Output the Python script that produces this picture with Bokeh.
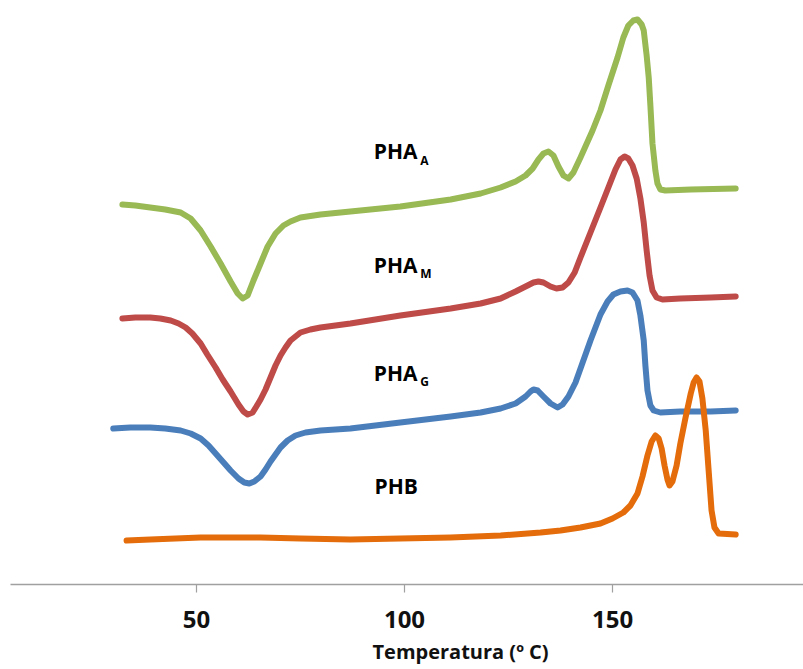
from bokeh.plotting import figure
from bokeh.models import Range1d, FixedTicker, ColumnDataSource, Title
from bokeh.core.properties import value
from bokeh.embed import file_html
from bokeh.resources import INLINE

# ---------------- data (DSC thermograms, heat flow in arbitrary units) ----------------
pha_a_T = [32.2, 35.3, 38.9, 42.5, 46.2, 48.6, 51.0, 53.4, 55.8, 58.2, 59.9, 61.1, 62.3, 63.7,
           65.4, 67.1, 69.0, 70.9, 72.6, 75.0, 79.8, 87.0, 99.0, 111.1, 118.3, 123.1, 126.7,
           129.1, 130.8, 132.2, 133.4, 134.6, 135.8, 137.0, 138.2, 139.4, 140.6, 142.3, 145.2,
           147.1, 149.0, 151.2, 152.6, 153.8, 155.0, 156.0, 157.0, 157.5, 158.2, 158.7, 159.1,
           159.6, 160.3, 160.8, 161.5, 162.7, 168.8, 179.6]
pha_a_hf = [38.0, 37.9, 37.7, 37.5, 37.2, 36.6, 35.4, 33.8, 32.1, 30.3, 29.1, 28.6, 28.9, 30.4,
            32.1, 33.8, 35.1, 35.9, 36.3, 36.7, 37.0, 37.3, 37.8, 38.5, 39.1, 39.7, 40.3,
            40.9, 41.6, 42.5, 43.1, 43.3, 42.9, 41.8, 40.9, 40.6, 41.2, 42.7, 45.4,
            47.4, 49.9, 52.7, 54.7, 55.9, 56.4, 56.5, 56.0, 55.4, 52.9, 50.7, 47.9,
            44.1, 41.4, 40.1, 39.5, 39.4, 39.5, 39.6]

pha_m_T = [32.2, 35.3, 38.9, 41.3, 43.8, 45.7, 47.4, 49.0, 51.0, 52.6, 54.6, 56.3, 58.2, 60.1,
           61.3, 62.3, 63.5, 64.4, 65.4, 66.6, 67.8, 69.0, 70.2, 71.4, 72.6, 75.0, 77.4, 79.8,
           87.0, 99.0, 111.1, 118.3, 123.1, 126.7, 129.1, 131.0, 132.2, 133.4, 135.1, 136.5,
           138.0, 139.4, 140.9, 142.3, 144.7, 147.1, 149.0, 150.7, 151.9, 152.9, 153.8, 154.8,
           155.8, 156.7, 157.5, 158.2, 158.9, 159.6, 160.6, 162.0, 166.3, 173.6, 179.6]
pha_m_hf = [26.6, 26.7, 26.7, 26.6, 26.4, 26.1, 25.7, 25.1, 24.1, 23.0, 21.7, 20.5, 19.3, 18.0,
            17.3, 17.0, 17.2, 17.8, 18.5, 19.5, 20.7, 21.9, 22.9, 23.7, 24.4, 25.2, 25.5, 25.7,
            26.1, 26.9, 27.6, 28.1, 28.6, 29.3, 29.8, 30.2, 30.3, 30.2, 29.8, 29.6,
            29.7, 30.2, 31.2, 32.7, 35.2, 37.7, 39.7, 41.5, 42.5, 42.8, 42.6, 41.9,
            40.6, 38.6, 36.2, 33.4, 30.9, 29.4, 28.7, 28.5, 28.6, 28.7, 28.8]

pha_g_T = [30.0, 34.1, 38.9, 42.5, 46.2, 48.6, 51.0, 52.9, 54.6, 56.3, 58.2, 60.1, 61.5, 62.7,
           63.9, 65.4, 66.6, 67.8, 69.0, 70.2, 71.9, 73.8, 76.2, 79.8, 87.0, 99.0, 111.1, 118.3,
           123.1, 126.7, 129.1, 130.3, 131.0, 132.0, 133.4, 135.1, 136.8, 138.0, 139.4, 141.1,
           142.3, 144.7, 147.1, 148.8, 150.2, 151.9, 153.6, 154.8, 156.0, 156.7, 157.5, 157.9,
           158.4, 159.1, 159.9, 161.5, 166.3, 173.6, 179.6]
pha_g_hf = [15.6, 15.7, 15.7, 15.6, 15.4, 15.1, 14.6, 13.9, 13.1, 12.3, 11.4, 10.6, 10.2, 10.1,
            10.3, 10.8, 11.5, 12.3, 13.0, 13.7, 14.4, 14.9, 15.2, 15.4, 15.6, 16.2, 16.8, 17.2,
            17.6, 18.1, 18.8, 19.3, 19.5, 19.4, 18.8, 18.1, 17.7, 18.0, 18.8, 20.2,
            21.6, 24.4, 27.0, 28.3, 29.0, 29.3, 29.4, 29.2, 28.4, 26.9, 24.4, 21.9,
            19.4, 17.9, 17.4, 17.2, 17.3, 17.3, 17.4]

phb_T = [33.2, 38.9, 51.0, 65.4, 75.0, 87.0, 99.0, 111.1, 123.1, 132.7, 137.5, 142.3, 147.1,
         150.0, 152.6, 154.3, 156.0, 157.2, 158.4, 159.4, 160.3, 161.1, 161.8, 162.5, 163.2,
         163.7, 164.4, 165.4, 166.3, 167.5, 168.8, 169.5, 170.2, 170.9, 171.6, 172.4, 173.1,
         173.8, 174.5, 175.5, 179.6]
phb_hf = [4.4, 4.5, 4.7, 4.7, 4.6, 4.5, 4.6, 4.7, 4.9, 5.2, 5.4, 5.7, 6.1,
          6.6, 7.2, 7.9, 9.1, 10.8, 12.9, 14.3, 14.9, 14.6, 13.6, 11.9, 10.5,
          9.9, 10.3, 11.9, 14.1, 16.6, 19.1, 20.2, 20.7, 20.3, 18.6, 15.4, 11.4,
          7.4, 5.7, 5.1, 5.0]

series_names = ["PHA", "PHA", "PHA", "PHB"]
series_subscripts = ["A", "M", "G", ""]
x_ticks = [50, 100, 150]
x_title = "Temperatura (º C)"

# ---------------- styling / annotation placement ----------------
colors = ["#98B954", "#BE4B48", "#4A7EBB", "#E46C0A"]
label_T = [92.6, 92.6, 92.6, 92.8]        # left edge of main label text
label_hf = [43.4, 32.0, 21.2, 9.9]        # baseline of main label text
sub_T = [103.8, 103.8, 103.8, 0]
sub_hf = [42.4, 31.1, 20.3, 0]

FONT = "Open Sans"

p = figure(width=803, height=669, output_backend="svg", toolbar_location=None,
           x_range=Range1d(5.3, 195.9), y_range=Range1d(0, 58.4),
           y_axis_location=None, min_border_left=10, min_border_right=0,
           min_border_top=0, min_border_bottom=85)
p.outline_line_color = None
p.xgrid.visible = False
p.ygrid.visible = False
p.background_fill_color = "white"
p.border_fill_color = "white"

series = [(pha_a_T, pha_a_hf), (pha_m_T, pha_m_hf), (pha_g_T, pha_g_hf), (phb_T, phb_hf)]
for (xs, ys), c in zip(series, colors):
    p.line(xs, ys, line_color=c, line_width=6, line_cap="round", line_join="round")

main_src = ColumnDataSource(dict(x=label_T, y=label_hf, t=series_names))
p.text(x="x", y="y", text="t", source=main_src, text_font=value(FONT),
       text_font_size="21px", text_font_style="bold", text_color="#000000",
       text_align="left", text_baseline="alphabetic")

sub_idx = [i for i, s in enumerate(series_subscripts) if s]
sub_src = ColumnDataSource(dict(x=[sub_T[i] for i in sub_idx], y=[sub_hf[i] for i in sub_idx],
                                t=[series_subscripts[i] for i in sub_idx]))
p.text(x="x", y="y", text="t", source=sub_src, text_font=value(FONT),
       text_font_size="12px", text_font_style="bold", text_color="#000000",
       text_align="left", text_baseline="alphabetic")

ax = p.xaxis[0]
ax.ticker = FixedTicker(ticks=x_ticks)
ax.minor_tick_line_color = None
ax.axis_line_color = "#A0A0A0"
ax.axis_line_width = 1.5
ax.major_tick_line_color = "#A0A0A0"
ax.major_tick_line_width = 1.2
ax.major_tick_out = 8
ax.major_tick_in = 0
ax.major_label_text_font = FONT
ax.major_label_text_font_size = "24px"
ax.major_label_text_font_style = "bold"
ax.major_label_text_color = "#111111"
ax.major_label_standoff = 18

# axis title (in the reference it sits right of the frame centre)
title = Title(text=x_title, align="left", offset=362, standoff=10,
              text_font=FONT, text_font_size="20px", text_font_style="bold",
              text_color="#111111")
p.add_layout(title, "below")

open("out.html", "w").write(file_html(p, INLINE))
